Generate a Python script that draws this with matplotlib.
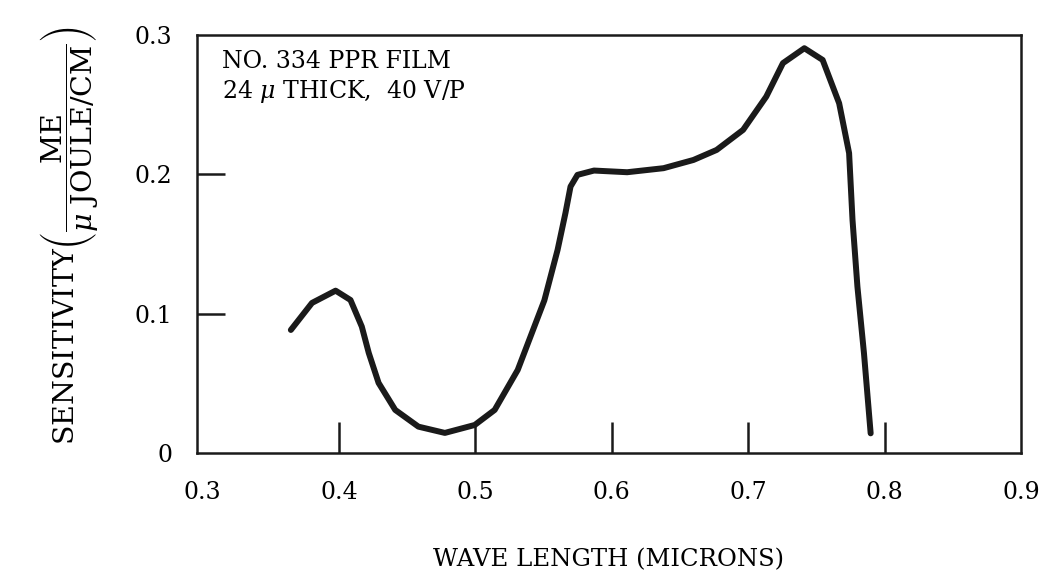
#!/usr/bin/env python

import numpy as np
import matplotlib.pyplot as plt

#---------------------------------------------------------------------------------------------------
# values
wavelength  = [0.3648, 0.3803, 0.3976, 0.4085, 0.4168, 0.4219, 0.4291, 0.4413, 0.4583, 0.4777,
               0.4996, 0.5142, 0.5311, 0.5506, 0.5603, 0.5661, 0.5698, 0.5749, 0.5870, 0.6113,
               0.6380, 0.6599, 0.6769, 0.6963, 0.7133, 0.7255, 0.7412, 0.7546, 0.7667, 0.7740,
               0.7765, 0.7801, 0.7849, 0.7898]
sensitivity = [0.0883, 0.1077, 0.1165, 0.1098, 0.0907, 0.0718, 0.0503, 0.0309, 0.0189, 0.0144,
               0.0201, 0.0309, 0.0596, 0.1095, 0.1457, 0.1723, 0.1912, 0.1996, 0.2027, 0.2015,
               0.2044, 0.2103, 0.2175, 0.2319, 0.2558, 0.2798, 0.2905, 0.2821, 0.2510, 0.2152,
               0.1673, 0.1194, 0.0716, 0.0141]

x_labels   = [0.3, 0.4, 0.5, 0.6, 0.7, 0.8, 0.9]
x_marks    = [0.4, 0.5, 0.6, 0.7, 0.8]
y_labels   = [0.0, 0.1, 0.2, 0.3]
y_marks    = [0.1, 0.2]

note = "NO. 334 PPR FILM\n24 $\\mu$ THICK,  40 V/P"

plt.rcParams['font.family'] = 'DejaVu Serif'
plt.rcParams['mathtext.fontset'] = 'dejavuserif'

fig = plt.figure(figsize=(10.49, 5.86), dpi=100)
ax = fig.add_axes([0.1878, 0.2270, 0.7855, 0.7133])

ax.plot(wavelength, sensitivity, color='#1a1a1a', linewidth=4.3,
        solid_capstyle='round', solid_joinstyle='round')

ax.set_xlim(0.296, 0.896)
ax.set_ylim(0.0, 0.3)

# labels without marks, marks drawn as minor ticks pointing inwards
ax.xaxis.remove_overlapping_locs = False
ax.yaxis.remove_overlapping_locs = False
ax.set_xticks(x_labels)
ax.set_xticklabels(["%.1f" % v for v in x_labels], fontsize=17)
ax.set_yticks(y_labels)
ax.set_yticklabels(["0"] + ["%.1f" % v for v in y_labels[1:]], fontsize=17)
ax.tick_params(axis='both', which='major', length=0)
ax.tick_params(axis='x', which='major', pad=20)
ax.tick_params(axis='y', which='major', pad=18)

ax.set_xticks(x_marks, minor=True)
ax.set_yticks(y_marks, minor=True)
ax.tick_params(axis='x', which='minor', direction='in', length=22, width=1.8, color='#1a1a1a')
ax.tick_params(axis='y', which='minor', direction='in', length=20, width=1.8, color='#1a1a1a')

for s in ax.spines.values():
    s.set_linewidth(1.8)
    s.set_color('#1a1a1a')

ax.text(0.03, 0.965, note, transform=ax.transAxes, fontsize=17, va='top', ha='left',
        linespacing=1.25)

ax.set_xlabel("WAVE LENGTH (MICRONS)", fontsize=17.5, labelpad=32)
ax.set_ylabel(r"SENSITIVITY$\left(\dfrac{\mathrm{ME}}{\mu\ \mathrm{JOULE/CM}}\right)$",
              fontsize=20.5, labelpad=14)
ax.yaxis.set_label_coords(-0.118, 0.52)

plt.savefig("out.png", dpi=100)
